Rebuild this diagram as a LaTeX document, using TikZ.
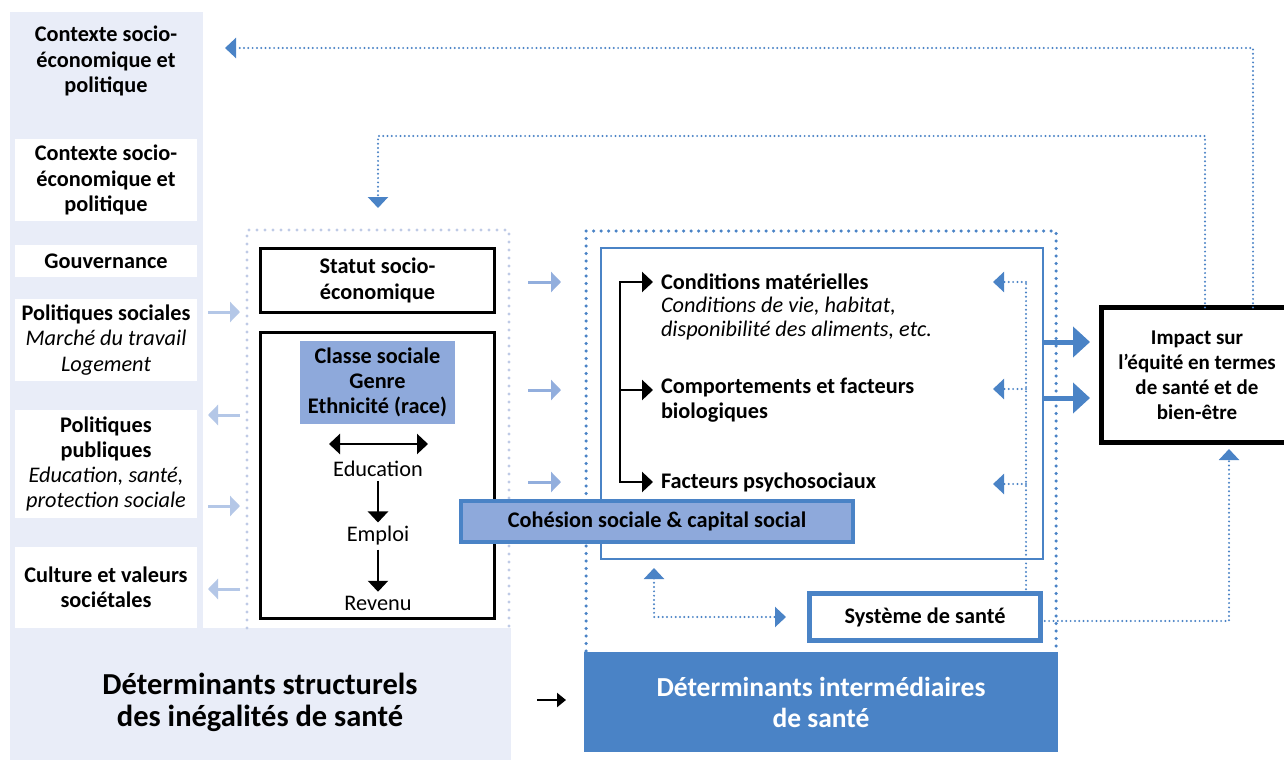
\documentclass[tikz,border=0pt]{standalone}
\usepackage{fontspec}
\setmainfont{Carlito}
\usetikzlibrary{arrows.meta,calc}
\definecolor{panel}{HTML}{E9EDF8}
\definecolor{lightarr}{HTML}{B4C7E7}
\definecolor{ldot}{HTML}{BFCBE6}
\definecolor{midarr}{HTML}{92AEDD}
\definecolor{mainblue}{HTML}{4A83C6}
\definecolor{fillblue}{HTML}{8EA9DB}
\newcommand\myfs{\fontsize{22.3}{25.2}\selectfont}
\newcommand\mybig{\fontsize{30.5}{32}\selectfont}
\newcommand\mybigb{\fontsize{27.5}{31}\selectfont}
\begin{document}
\begin{tikzpicture}[x=1pt,y=-1pt,
  every node/.style={inner sep=0pt, outer sep=0pt},
  wbox/.style={fill=white, minimum width=182, align=center, font=\myfs},
  blk/.style={draw=black, line width=3, fill=white},
  larrow/.style={draw=lightarr, line width=3, -{Triangle[length=10,width=20]}},
  marrow/.style={draw=midarr, line width=3, -{Triangle[length=10,width=20]}},
  karrow/.style={draw=black, line width=2.5, line join=miter, -{Triangle[length=11,width=20]}},
  kdbl/.style={draw=black, line width=2.5, {Triangle[length=11,width=20]}-{Triangle[length=11,width=20]}},
  fb/.style={draw=mainblue, line width=2.2, dash pattern=on 0pt off 4.3pt, line cap=round},
  fbtip/.style={-{Triangle[length=11,width=20]}},
  ldots/.style={draw=ldot, line width=3.2, dash pattern=on 0pt off 8pt, line cap=round},
  rdots/.style={draw=mainblue, line width=3.5, dash pattern=on 0pt off 7.5pt, line cap=round},
  tharrow/.style={draw=mainblue, line width=5, -{Triangle[length=17,width=30]}},
]
\fill[white] (0,0) rectangle (1284,760);
\useasboundingbox (0,0) rectangle (1284,760);

% left panel
\fill[panel] (10,12) rectangle (203,628);
\fill[panel] (10,628) rectangle (511,760);
\node[font=\myfs\bfseries, align=center] (ctxA) at (106,61) {Contexte socio-\\économique et\\politique};
\node[wbox, minimum height=82, font=\myfs\bfseries] (ctxB) at (106,180) {Contexte socio-\\économique et\\politique};
\node[wbox, minimum height=32, font=\myfs\bfseries] (gouv) at (106,261) {Gouvernance};
\node[wbox, minimum height=82] (polsoc) at (106,340) {\textbf{Politiques sociales}\\\textit{Marché du travail}\\\textit{Logement}};
\node[wbox, minimum height=108] (polpub) at (106,464) {\textbf{Politiques}\\\textbf{publiques}\\\textit{Education, santé,}\\\textit{protection sociale}};
\node[wbox, minimum height=81, font=\myfs\bfseries] (cult) at (106,587.5) {Culture et valeurs\\sociétales};

% light arrows
\coordinate (la1s) at (208,312); \coordinate (la1e) at (240,312);
\coordinate (la2s) at (240,415); \coordinate (la2e) at (208,415);
\coordinate (la3s) at (208,506); \coordinate (la3e) at (240,506);
\coordinate (la4s) at (240,589); \coordinate (la4e) at (208,589);
\draw[larrow] (la1s) -- (la1e);
\draw[larrow] (la2s) -- (la2e);
\draw[larrow] (la3s) -- (la3e);
\draw[larrow] (la4s) -- (la4e);

% left dotted box
\draw[ldots] (247,628) -- (247,230) -- (509,230) -- (509,628);

% structural boxes
\node[blk, minimum width=234, minimum height=64, font=\myfs\bfseries, align=center] (statut) at (377.5,280.5) {Statut socio-\\économique};
\node[blk, minimum width=234, minimum height=286] (bigbox) at (377.5,475.5) {};
\node[fill=fillblue, minimum width=155, minimum height=83, font=\myfs\bfseries, align=center] (classe) at (377.5,382.5) {Classe sociale\\Genre\\Ethnicité (race)};
\coordinate (dA) at (329,444); \coordinate (dB) at (428,444);
\draw[kdbl] (dA) -- (dB);
\node[font=\myfs] (edu) at (378,469) {Education};
\node[font=\myfs] (emp) at (378,536) {Emploi};
\node[font=\myfs] (rev) at (378,603) {Revenu};
\draw[karrow, shorten <=4, shorten >=4] (edu.south) -- (emp.north);
\draw[karrow, shorten <=4, shorten >=4] (emp.south) -- (rev.north);

% mid arrows
\coordinate (ma1s) at (528,282); \coordinate (ma1e) at (561,282);
\coordinate (ma2s) at (528,390); \coordinate (ma2e) at (561,390);
\coordinate (ma3s) at (528,482); \coordinate (ma3e) at (561,482);
\draw[marrow] (ma1s) -- (ma1e);
\draw[marrow] (ma2s) -- (ma2e);
\draw[marrow] (ma3s) -- (ma3e);

% right dotted box
\draw[rdots] (586,651) -- (586,231) -- (1056,231) -- (1056,651);
\node[draw=mainblue, line width=2.5, minimum width=442, minimum height=311] (inner) at (822,403.5) {};

% intermediate determinants
\node[anchor=west, font=\myfs\bfseries] (cm) at (661,282) {Conditions matérielles};
\node[anchor=west, font=\fontsize{22.3}{23.5}\selectfont\itshape, align=left] (cmsub) at (661,318.5) {Conditions de vie, habitat,\\disponibilité des aliments, etc.};
\node[anchor=west, font=\myfs\bfseries, align=left] (comp) at (661,400.5) {Comportements et facteurs\\biologiques};
\node[anchor=west, font=\myfs\bfseries] (psy) at (661,482) {Facteurs psychosociaux};
\coordinate (brT) at (620,282); \coordinate (brM) at (620,390); \coordinate (brB) at (620,482);
\draw[karrow, shorten >=8] (brB) -- (brT) -- (cm.west);
\draw[karrow, shorten >=8] (brT) -- (brB) -- (psy.west);
\draw[karrow, shorten >=8] (brM) -- (brM -| comp.west);

% feedback from health system
\node[draw=mainblue, line width=5, fill=white, minimum width=231, minimum height=47, font=\myfs\bfseries] (sys) at (925,617) {Système de santé};
\coordinate (fbT) at (1026,282); \coordinate (fbM) at (1026,389); \coordinate (fbB) at (1026,484);
\coordinate (fbTt) at (993,282); \coordinate (fbMt) at (993,389); \coordinate (fbBt) at (993,484);
\draw[fb] (sys.north -| fbT) -- (fbT);
\draw[fb, fbtip] (fbT) -- (fbTt);
\draw[fb, fbtip] (fbM) -- (fbMt);
\draw[fb, fbtip] (fbB) -- (fbBt);
\coordinate (bdU) at (654,568); \coordinate (bdC) at (654,617); \coordinate (bdR) at (786,617);
\draw[fb, {Triangle[length=11,width=20]}-{Triangle[length=11,width=20]}] (bdU) -- (bdC) -- (bdR);

% cohesion box
\node[draw=mainblue, line width=4, fill=fillblue, minimum width=392, minimum height=41, font=\myfs\bfseries] (coh) at (657,521.5) {Cohésion sociale \& capital social};

% impact
\node[draw=black, line width=5, fill=white, minimum width=191, minimum height=135, font=\fontsize{21}{25}\selectfont\bfseries, align=center] (impact) at (1197,375) {Impact sur\\l’équité en termes\\de santé et de\\bien-être};
\coordinate (th1) at (1043,342); \coordinate (th2) at (1043,398);
\draw[tharrow, shorten >=11.5] (th1) -- (impact.west |- th1);
\draw[tharrow, shorten >=11.5] (th2) -- (impact.west |- th2);

% long feedback loops
\coordinate (f1a) at (1253,48); \coordinate (f1t) at (225,48);
\draw[fb, fbtip] (impact.north -| f1a) -- (f1a) -- (f1t);
\coordinate (f2a) at (1205,136); \coordinate (f2b) at (378,136); \coordinate (f2t) at (378,208);
\draw[fb, fbtip] (impact.north -| f2a) -- (f2a) -- (f2b) -- (f2t);
\coordinate (f3a) at (1229,621); \coordinate (f3t) at (1229,449);
\draw[fb, fbtip] (sys.east |- f3a) -- (f3a) -- (f3t);

% bottom labels
\node[font=\mybig\bfseries, align=center] (struct) at (260,702) {Déterminants structurels\\des inégalités de santé};
\node[fill=mainblue, minimum width=474, minimum height=100, text=white, font=\mybigb\bfseries, align=center] (inter) at (821,702) {Déterminants intermédiaires\\de santé};
\coordinate (arA) at (537,700); \coordinate (arB) at (566,700);
\draw[draw=black, line width=2.5, -{Triangle[length=9,width=14]}] (arA) -- (arB);
\end{tikzpicture}
\end{document}
